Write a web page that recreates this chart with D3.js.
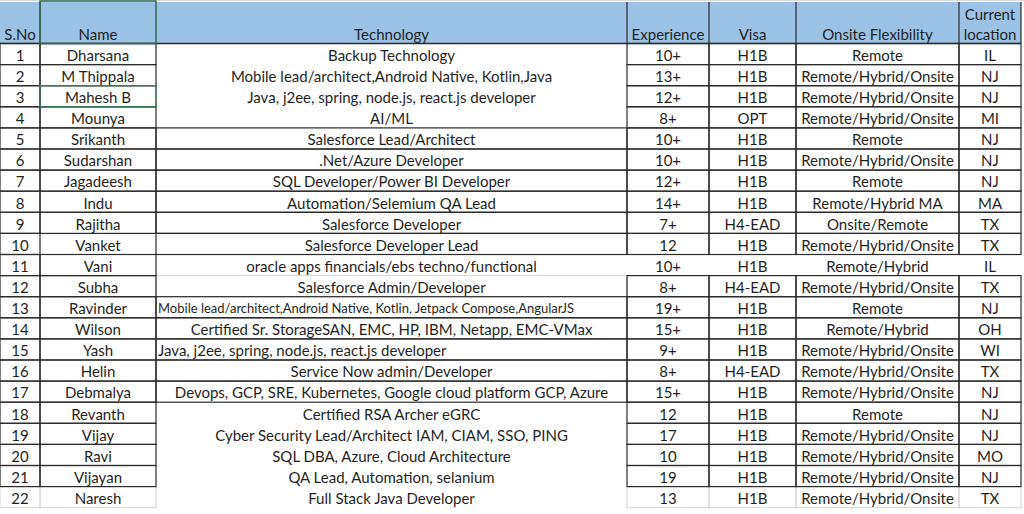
<!DOCTYPE html>
<html>
<head>
<meta charset="utf-8">
<script src="https://cdn.jsdelivr.net/npm/d3@7"></script>
<style>
  html, body { margin: 0; padding: 0; background: #fff; }
  svg { display: block; }
  text { font-family: Lato, "Open Sans", sans-serif; fill: #1f1f1f; }
</style>
</head>
<body>
<div id="chart"></div>
<script>
// table content
var headers = ["S.No", "Name", "Technology", "Experience", "Visa", "Onsite Flexibility", "Current location"];

var names = ["Dharsana", "M Thippala", "Mahesh B", "Mounya", "Srikanth", "Sudarshan", "Jagadeesh", "Indu",
    "Rajitha", "Vanket", "Vani", "Subha", "Ravinder", "Wilson", "Yash", "Helin", "Debmalya", "Revanth",
    "Vijay", "Ravi", "Vijayan", "Naresh"];

var technology = [
    "Backup Technology",
    "Mobile lead/architect,Android Native, Kotlin,Java",
    "Java, j2ee, spring, node.js, react.js developer",
    "AI/ML",
    "Salesforce Lead/Architect",
    ".Net/Azure Developer",
    "SQL Developer/Power BI Developer",
    "Automation/Selemium QA Lead",
    "Salesforce Developer",
    "Salesforce Developer Lead",
    "oracle apps financials/ebs techno/functional",
    "Salesforce Admin/Developer",
    "Mobile lead/architect,Android Native, Kotlin, Jetpack Compose,AngularJS",
    "Certified Sr. StorageSAN, EMC, HP, IBM, Netapp, EMC-VMax",
    "Java, j2ee, spring, node.js, react.js developer",
    "Service Now admin/Developer",
    "Devops, GCP, SRE, Kubernetes, Google cloud platform GCP, Azure",
    "Certified RSA Archer eGRC",
    "Cyber Security Lead/Architect IAM, CIAM, SSO, PING",
    "SQL DBA, Azure, Cloud Architecture",
    "QA Lead, Automation, selanium",
    "Full Stack Java Developer"];

var experience = ["10+", "13+", "12+", "8+", "10+", "10+", "12+", "14+", "7+", "12", "10+", "8+", "19+",
    "15+", "9+", "8+", "15+", "12", "17", "10", "19", "13"];

var visa = ["H1B", "H1B", "H1B", "OPT", "H1B", "H1B", "H1B", "H1B", "H4-EAD", "H1B", "H1B", "H4-EAD", "H1B",
    "H1B", "H1B", "H4-EAD", "H1B", "H1B", "H1B", "H1B", "H1B", "H1B"];

var onsite = ["Remote", "Remote/Hybrid/Onsite", "Remote/Hybrid/Onsite", "Remote/Hybrid/Onsite", "Remote",
    "Remote/Hybrid/Onsite", "Remote", "Remote/Hybrid MA", "Onsite/Remote", "Remote/Hybrid/Onsite",
    "Remote/Hybrid", "Remote/Hybrid/Onsite", "Remote", "Remote/Hybrid", "Remote/Hybrid/Onsite",
    "Remote/Hybrid/Onsite", "Remote/Hybrid/Onsite", "Remote", "Remote/Hybrid/Onsite",
    "Remote/Hybrid/Onsite", "Remote/Hybrid/Onsite", "Remote/Hybrid/Onsite"];

var location_ = ["IL", "NJ", "NJ", "MI", "NJ", "NJ", "NJ", "MA", "TX", "TX", "IL", "TX", "NJ", "OH", "WI",
    "TX", "NJ", "NJ", "NJ", "MO", "NJ", "TX"];

// layout
var width = 1024, height = 514;
var colEdges = [0, 40, 156, 627, 709, 796, 959, 1021];
var headTop = 2, headBottom = 43.5, tableBottom = 507.7;

// border style per row: d = dark, l = light grid, n = none
var snoBorder   = "dddddddddddddddddddddl";
var nameBorder  = "dddddddddndddddddddddl";
var techBorder  = "nnnnddddddnldddddnnnnn";
var rightBorder = "ddddddddddnddddddddddl";

var cols = d3.range(headers.length);
var x = d3.scaleOrdinal().domain(cols).range(colEdges.slice(0, -1));
var w = function(c) { return colEdges[c + 1] - colEdges[c]; };

var rows = d3.range(names.length);
var y = d3.scaleBand().domain(rows).range([headBottom, tableBottom]);

var columns = [
    rows.map(function(i) { return String(i + 1); }),
    names, technology, experience, visa, onsite, location_
];

var svg = d3.select("#chart").append("svg")
    .attr("width", width)
    .attr("height", height);

svg.append("rect").attr("width", width).attr("height", height).attr("fill", "#fff");

// faint sheet line above header
svg.append("line")
    .attr("x1", 0).attr("x2", width).attr("y1", 0.5).attr("y2", 0.5)
    .attr("stroke", "#dcdcdc").attr("stroke-width", 1.5);

// header
svg.append("rect")
    .attr("x", 0).attr("y", headTop)
    .attr("width", colEdges[colEdges.length - 1]).attr("height", headBottom - headTop)
    .attr("fill", "#9cc3e6");

svg.selectAll(".hdiv")
    .data(colEdges.slice(1))
    .enter().append("line")
    .attr("class", "hdiv")
    .attr("x1", function(d) { return d; }).attr("x2", function(d) { return d; })
    .attr("y1", headTop).attr("y2", headBottom)
    .attr("stroke", function(d, i) { return i === 1 ? "none" : "#2b2b2b"; })
    .attr("stroke-width", 1.2);

svg.append("line")
    .attr("x1", 0).attr("x2", colEdges[colEdges.length - 1])
    .attr("y1", headBottom).attr("y2", headBottom)
    .attr("stroke", "#2b2b2b").attr("stroke-width", 1.5);

svg.selectAll(".htext")
    .data(headers)
    .enter().append("text")
    .attr("class", "htext")
    .attr("text-anchor", "middle")
    .attr("font-size", 15)
    .each(function(d, c) {
        var parts = d === "Current location" ? ["Current", "location"] : [d];
        var t = d3.select(this);
        parts.forEach(function(p, k) {
            t.append("tspan")
                .attr("x", x(c) + w(c) / 2)
                .attr("y", headBottom - 3.5 - (parts.length - 1 - k) * 20.5)
                .text(p);
        });
    });

// body cell borders
function groupOf(c) {
    return [snoBorder, nameBorder, techBorder][c] || rightBorder;
}

var cells = [];
rows.forEach(function(i) {
    cols.forEach(function(c) {
        cells.push({ r: i, c: c, style: groupOf(c)[i] });
    });
});

var strokeOf = { d: "#2b2b2b", l: "#d4d4d4", n: "none" };

["l", "d"].forEach(function(s) {
    svg.selectAll(".cell-" + s)
        .data(cells.filter(function(d) { return d.style === s; }))
        .enter().append("rect")
        .attr("class", "cell-" + s)
        .attr("x", function(d) { return x(d.c); })
        .attr("y", function(d) { return y(d.r); })
        .attr("width", function(d) { return w(d.c); })
        .attr("height", y.bandwidth())
        .attr("fill", "none")
        .attr("stroke", strokeOf[s])
        .attr("stroke-width", s === "d" ? 1.2 : 1);
});

// selection outlines (green)
svg.append("rect")
    .attr("x", x(1)).attr("y", headTop - 1)
    .attr("width", w(1)).attr("height", headBottom - headTop + 1)
    .attr("fill", "none").attr("stroke", "#2f6b4f").attr("stroke-width", 1.5);

svg.append("rect")
    .attr("x", x(1)).attr("y", y(2))
    .attr("width", w(1)).attr("height", y.bandwidth())
    .attr("fill", "none").attr("stroke", "#3c8a5c").attr("stroke-width", 1.2);

// body text
var leftAligned = { 12: 13, 14: 15 }; // technology rows drawn from the left edge, with font size

cols.forEach(function(c) {
    svg.selectAll(".t" + c)
        .data(columns[c])
        .enter().append("text")
        .attr("class", "t" + c)
        .attr("font-size", function(d, i) { return (c === 2 && leftAligned[i]) ? leftAligned[i] : 15; })
        .attr("text-anchor", function(d, i) { return (c === 2 && leftAligned[i]) ? "start" : "middle"; })
        .attr("x", function(d, i) { return (c === 2 && leftAligned[i]) ? x(c) + 2 : x(c) + w(c) / 2; })
        .attr("y", function(d, i) { return y(i) + y.bandwidth() / 2; })
        .attr("dy", "0.45em")
        .text(function(d) { return d; });
});
</script>
</body>
</html>
